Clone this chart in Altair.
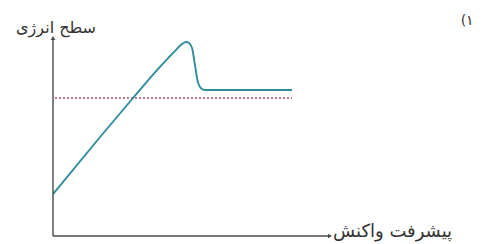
import altair as alt
import pandas as pd

# Reaction energy profile (arbitrary units: progress 0-100, energy 0-100)
curve_x = [0.0, 17.0, 28.9, 38.6, 44.0, 46.6, 48.0, 49.1, 50.2, 51.3, 52.3, 53.4, 54.9, 86.3]
curve_y = [21.2, 50.0, 69.7, 85.4, 93.4, 97.0, 98.0, 97.5, 94.9, 85.9, 77.8, 74.7, 73.7, 73.7]

ref_x = [0.7, 86.3]
ref_y = [69.7, 69.7]

y_label = "سطح انرژی"
x_label = "پیشرفت واکنش"
number_label = "\u200e(۱\u200e"

curve = pd.DataFrame({"x": curve_x, "y": curve_y})
ref = pd.DataFrame({"x": ref_x, "y": ref_y})

xs = alt.Scale(domain=[0, 100], range=[45, 322])
ys = alt.Scale(domain=[0, 100], range=[228, 30])
X = lambda f: alt.X(f, type="quantitative", scale=xs, axis=None)
Y = lambda f: alt.Y(f, type="quantitative", scale=ys, axis=None)

axes_df = pd.DataFrame({"x": [0, 0], "y": [0, 0], "x2": [100, 0], "y2": [0, 100]})
axes = alt.Chart(axes_df).mark_rule(color="#4a4a4a", strokeWidth=1.4).encode(
    x=X("x"), y=Y("y"), x2="x2", y2="y2"
)

arrow_df = pd.DataFrame({"x": [100, 0], "y": [0, 100], "a": [90, 0]})
arrows = alt.Chart(arrow_df).mark_point(
    shape="triangle-up", filled=True, size=22, color="#4a4a4a", opacity=1
).encode(x=X("x"), y=Y("y"), angle=alt.Angle("a:Q", scale=None))

ref_line = alt.Chart(ref).mark_line(
    color="#a8485c", strokeDash=[2, 2], strokeWidth=1.4
).encode(x=X("x"), y=Y("y"))

line = alt.Chart(curve).mark_line(
    color="#2f8c9c", strokeWidth=1.9, interpolate="monotone"
).encode(x=X("x"), y=Y("y"))

font = "DejaVu Sans"
t_y = alt.Chart(pd.DataFrame({"t": [y_label]})).mark_text(
    font=font, fontSize=16, color="#333333", align="center", baseline="middle"
).encode(x=alt.datum(1.1, scale=xs), y=alt.datum(105.0, scale=ys), text="t:N")

t_x = alt.Chart(pd.DataFrame({"t": [x_label]})).mark_text(
    font=font, fontSize=18, color="#333333", align="left", baseline="middle"
).encode(x=alt.datum(101.1, scale=xs), y=alt.datum(2.0, scale=ys), text="t:N")

t_n = alt.Chart(pd.DataFrame({"t": [number_label]})).mark_text(
    font=font, fontSize=14, color="#333333", align="center", baseline="middle"
).encode(x=alt.datum(149.5, scale=xs), y=alt.datum(108.5, scale=ys), text="t:N")

chart = alt.layer(ref_line, line, axes, arrows, t_y, t_x, t_n).properties(
    width=465, height=236, padding=0, autosize=alt.AutoSizeParams(type="none")
).configure_view(stroke=None)

chart.save("out.html", embed_options={"renderer": "svg", "actions": False})
